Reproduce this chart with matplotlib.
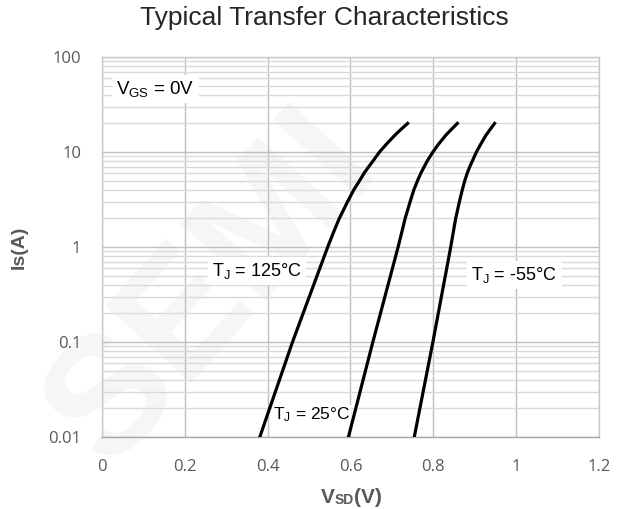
import matplotlib
matplotlib.use('Agg')
import matplotlib.pyplot as plt
from matplotlib.ticker import FixedLocator, FixedFormatter, NullFormatter

plt.rcParams['font.family'] = ['Liberation Sans', 'DejaVu Sans']
plt.rcParams['mathtext.default'] = 'regular'

# source current (A) at which the curves were read
current = [0.01, 0.1, 1, 1.5, 2, 3, 4, 5, 6, 7, 8, 10, 12, 15, 17, 20]
# forward voltage V_SD (V) for each junction temperature
vsd_125 = [0.381, 0.460, 0.545, 0.561, 0.573, 0.593, 0.608, 0.622, 0.633, 0.644,
           0.654, 0.670, 0.686, 0.707, 0.720, 0.738]
vsd_25 = [0.595, 0.654, 0.715, 0.725, 0.732, 0.744, 0.753, 0.762, 0.770, 0.778,
          0.785, 0.799, 0.812, 0.830, 0.842, 0.858]
vsd_m55 = [0.754, 0.799, 0.842, 0.849, 0.854, 0.863, 0.870, 0.876, 0.882, 0.888,
           0.894, 0.904, 0.914, 0.927, 0.936, 0.948]

x_ticks = [0, 0.2, 0.4, 0.6, 0.8, 1.0, 1.2]
x_labels = ['0', '0.2', '0.4', '0.6', '0.8', '1', '1.2']
y_ticks = [0.01, 0.1, 1, 10, 100]
y_labels = ['0.01', '0.1', '1', '10', '100']

fig = plt.figure(figsize=(6.27, 5.09), dpi=100)
ax = fig.add_axes([0.1627, 0.1415, 0.7926, 0.7465])
ax.set_facecolor('none')

# faint watermark behind the chart
fig.text(0.03, 0.10, 'SEMI', rotation=48, fontsize=120, color='#f6f6f6',
         fontweight='bold', zorder=-1)

ax.plot(vsd_125, current, color='black', lw=2.3, zorder=4)
ax.plot(vsd_25, current, color='black', lw=2.3, zorder=4)
ax.plot(vsd_m55, current, color='black', lw=2.3, zorder=4)

ax.set_yscale('log')
ax.set_xlim(0, 1.2)
ax.set_ylim(0.01, 100)
ax.xaxis.set_major_locator(FixedLocator(x_ticks))
ax.xaxis.set_major_formatter(FixedFormatter(x_labels))
ax.yaxis.set_major_locator(FixedLocator(y_ticks))
ax.yaxis.set_major_formatter(FixedFormatter(y_labels))
ax.yaxis.set_minor_formatter(NullFormatter())
ax.tick_params(which='both', length=0, colors='#595959', labelsize=12)
ax.tick_params(axis='x', pad=16)
ax.tick_params(axis='y', pad=15)
for lab in ax.get_xticklabels() + ax.get_yticklabels():
    lab.set_family(['Open Sans', 'DejaVu Sans'])

ax.grid(True, which='major', axis='both', color='#bfbfbf', lw=1.0, zorder=1)
ax.grid(True, which='minor', axis='y', color='#d9d9d9', lw=1.0, zorder=1)
ax.set_axisbelow(True)
for s in ax.spines.values():
    s.set_color('#c8c8c8')
    s.set_linewidth(1.0)
ax.spines['bottom'].set_color('#a6a6a6')

fig.text(0.517, 0.965, 'Typical Transfer Characteristics', ha='center', va='center',
         fontsize=19, color='#262626')

# axis labels
fig.text(0.030, 0.5145, 'Is(A)', rotation=90, ha='center', va='center',
         fontsize=14, fontweight='bold', color='#595959')
t1 = fig.text(0.534, 0.012, 'V', fontsize=15, fontweight='bold', color='#595959',
              ha='right', va='baseline')
t2 = ax.annotate('SD', xy=(1, 0), xycoords=t1, va='bottom', ha='left',
                 fontsize=10, fontweight='bold', color='#595959')
ax.annotate('(V)', xy=(1, 0), xycoords=t2, va='bottom', ha='left',
            fontsize=15, fontweight='bold', color='#595959')

box = dict(facecolor='white', edgecolor='none', pad=3)
ax.text(0.034, 46, 'V$_{GS}$ = 0V', fontsize=13.5, va='center', ha='left', bbox=box, zorder=5)
ax.text(0.265, 0.56, 'T$_{J}$ = 125°C', fontsize=13, va='center', ha='left', bbox=box, zorder=5)
ax.text(0.892, 0.507, 'T$_{J}$ = -55°C', fontsize=13, va='center', ha='left', bbox=box, zorder=5)
ax.text(0.412, 0.017, 'T$_{J}$ = 25°C', fontsize=12.5, va='center', ha='left',
        bbox=dict(facecolor='white', edgecolor='none', pad=0.5), zorder=3)

fig.savefig('out.png', dpi=100)
